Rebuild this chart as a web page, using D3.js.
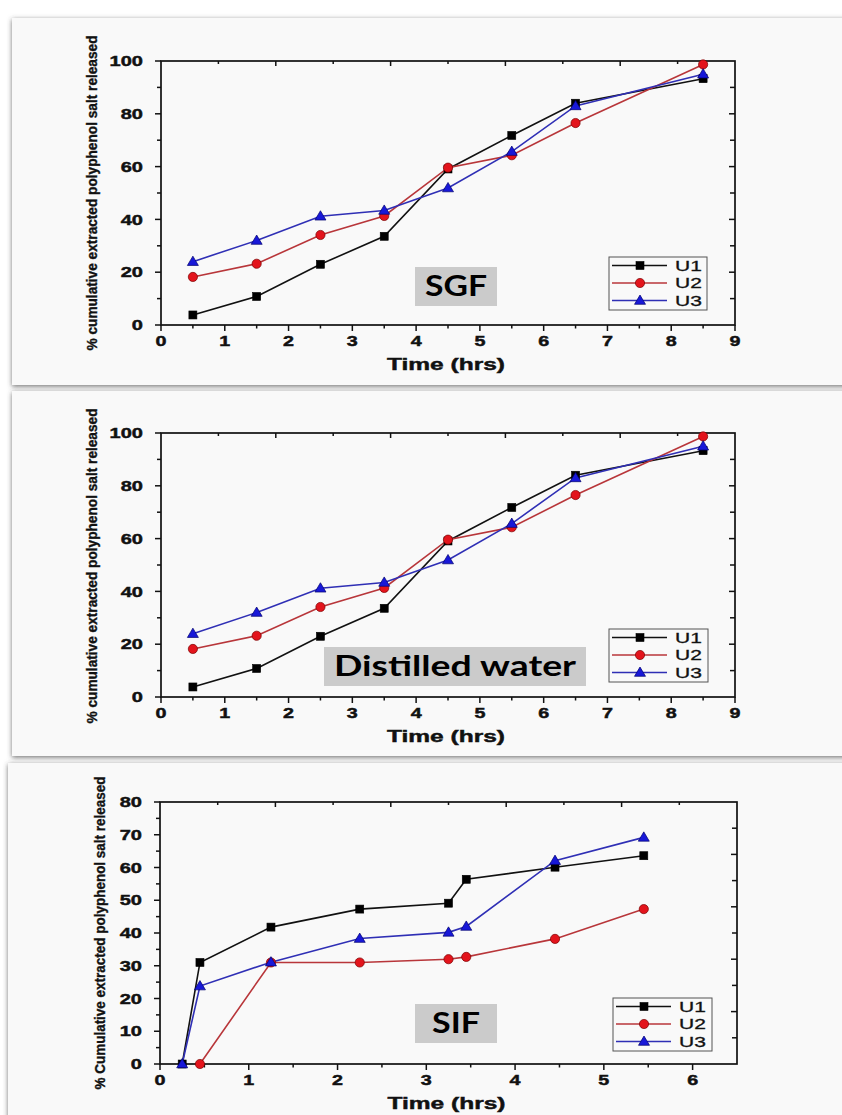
<!DOCTYPE html>
<html><head><meta charset="utf-8">
<script src="https://cdn.jsdelivr.net/npm/d3@7"></script>
<style>body{margin:0;background:#fff;} svg{display:block;}</style>
</head><body>
<svg id="c" width="842" height="1115"></svg>
<script>
// ---------- data ----------
const seriesNames = ["U1", "U2", "U3"];

const timeHrs = [0.5, 1.5, 2.5, 3.5, 4.5, 5.5, 6.5, 8.5];
const sgfU1 = [3.8, 10.8, 23.0, 33.6, 59.1, 71.8, 84.0, 93.3];
const sgfU2 = [18.2, 23.2, 34.1, 41.3, 59.6, 64.3, 76.5, 98.7];
const sgfU3 = [24.0, 32.0, 41.2, 43.4, 51.9, 65.7, 83.0, 95.0];

const waterU1 = [3.8, 10.8, 23.0, 33.6, 59.1, 71.8, 84.0, 93.3];
const waterU2 = [18.2, 23.2, 34.1, 41.3, 59.6, 64.3, 76.5, 98.7];
const waterU3 = [24.0, 32.0, 41.2, 43.4, 51.9, 65.7, 83.0, 95.0];

const sifTimeU1 = [0.25, 0.45, 1.25, 2.25, 3.25, 3.45, 4.45, 5.45];
const sifU1 = [0, 31.0, 41.8, 47.3, 49.1, 56.4, 60.1, 63.6];
const sifTimeU2 = [0.45, 1.25, 2.25, 3.25, 3.45, 4.45, 5.45];
const sifU2 = [0, 31.0, 31.0, 32.0, 32.7, 38.2, 47.3];
const sifTimeU3 = [0.25, 0.45, 1.25, 2.25, 3.25, 3.45, 4.45, 5.45];
const sifU3 = [0, 23.8, 31.1, 38.3, 40.2, 42.0, 62.1, 69.2];

const xTicksA = [0, 1, 2, 3, 4, 5, 6, 7, 8, 9];
const yTicksA = [0, 20, 40, 60, 80, 100];
const xTicksB = [0, 1, 2, 3, 4, 5, 6];
const yTicksB = [0, 10, 20, 30, 40, 50, 60, 70, 80];

const xTitle = "Time (hrs)";
const yTitleA = "% cumulative extracted polyphenol salt released";
const yTitleB = "% Cumulative extracted polyphenol salt released";
const panelLabels = ["SGF", "Distilled water", "SIF"];

// ---------- styles ----------
const lineColors = ["#111111", "#b8363a", "#2f2fb5"];
const fillColors = ["#000000", "#e3141c", "#1818d8"];
const edgeColors = ["#000000", "#7a0000", "#00006e"];
const STRETCH = 1.4;
const FONT = "'Liberation Sans', Arial, sans-serif";

const svg = d3.select("#c");
const defs = svg.append("defs");
const f = defs.append("filter").attr("id", "sh").attr("x", "-5%").attr("y", "-5%").attr("width", "110%").attr("height", "110%");
f.append("feDropShadow").attr("dx", 0).attr("dy", 1.5).attr("stdDeviation", 2.5)
  .attr("flood-color", "#444").attr("flood-opacity", 0.75);

function marker(g, i, px, py) {
  if (i === 0) {
    g.append("rect").attr("x", px - 4).attr("y", py - 4).attr("width", 8).attr("height", 8)
      .attr("fill", fillColors[0]).attr("stroke", edgeColors[0]).attr("stroke-width", 0.6);
  } else if (i === 1) {
    g.append("circle").attr("cx", px).attr("cy", py).attr("r", 4.6)
      .attr("fill", fillColors[1]).attr("stroke", edgeColors[1]).attr("stroke-width", 0.7);
  } else {
    g.append("path").attr("d", `M${px},${py - 5.5}L${px + 5.5},${py + 3.8}L${px - 5.5},${py + 3.8}Z`)
      .attr("fill", fillColors[2]).attr("stroke", edgeColors[2]).attr("stroke-width", 0.7);
  }
}

function stretchedText(g, tx, ty, txt, opts) {
  const gg = g.append("g").attr("transform", `translate(${tx},${ty})`);
  gg.append("text").attr("transform", `scale(${opts.sx || STRETCH},1)`)
    .attr("text-anchor", opts.anchor || "middle")
    .attr("dy", opts.dy || 0)
    .attr("font-family", FONT)
    .attr("font-weight", opts.weight || "bold")
    .attr("font-size", opts.size || 14)
    .attr("fill", "#111")
    .attr("stroke", opts.stroke ? "#111" : "none")
    .attr("stroke-width", opts.stroke || 0)
    .text(txt);
}

function panel(o) {
  const g = svg.append("g");
  g.append("rect").attr("x", o.box[0]).attr("y", o.box[1]).attr("width", o.box[2]).attr("height", o.box[3])
    .attr("fill", "#f9f9f9").attr("filter", "url(#sh)");

  const x = d3.scaleLinear().domain(o.xDomain).range([o.left, o.right]);
  const y = d3.scaleLinear().domain(o.yDomain).range([o.bottom, o.top]);
  const xMax = o.xDomain[1], yMax = o.yDomain[1];
  const tk = g.append("g").attr("stroke", "#111").attr("stroke-width", 1.5);

  // bottom ticks (outward)
  o.xTicks.forEach(v => tk.append("line").attr("x1", x(v)).attr("x2", x(v)).attr("y1", o.bottom).attr("y2", o.bottom + 6));
  const xs = o.xTicks[1] - o.xTicks[0];
  d3.range(o.xDomain[0] + xs / 2, xMax - 1e-6, xs).forEach(v =>
    tk.append("line").attr("x1", x(v)).attr("x2", x(v)).attr("y1", o.bottom).attr("y2", o.bottom + 3.5));
  // left ticks (outward)
  o.yTicks.forEach(v => tk.append("line").attr("x1", o.left - 6).attr("x2", o.left).attr("y1", y(v)).attr("y2", y(v)));
  const ys = o.yTicks[1] - o.yTicks[0];
  d3.range(o.yDomain[0] + ys / 2, yMax - 1e-6, ys).forEach(v =>
    tk.append("line").attr("x1", o.left - 4).attr("x2", o.left).attr("y1", y(v)).attr("y2", y(v)));
  // top ticks (inward), ten divisions
  d3.range(1, 10).forEach(k => {
    const v = xMax * k / 10;
    tk.append("line").attr("x1", x(v)).attr("x2", x(v)).attr("y1", o.top).attr("y2", o.top + (k % 2 === 0 ? 5 : 3));
  });
  // right ticks (inward), ten divisions
  d3.range(1, 10).forEach(k => {
    const v = yMax * k / 10;
    tk.append("line").attr("x1", o.right - (k % 2 === 0 ? 6 : 5)).attr("x2", o.right).attr("y1", y(v)).attr("y2", y(v));
  });

  // frame
  g.append("rect").attr("x", o.left).attr("y", o.top).attr("width", o.right - o.left).attr("height", o.bottom - o.top)
    .attr("fill", "none").attr("stroke", "#111").attr("stroke-width", 1.7);

  // tick labels
  o.xTicks.forEach(v => stretchedText(g, x(v), o.bottom + 21, String(v), { size: 14.5, sx: 1.36, stroke: 0.45 }));
  o.yTicks.forEach(v => stretchedText(g, o.left - 18, y(v), String(v), { size: 14.5, anchor: "end", dy: "0.36em", sx: 1.38, stroke: 0.45 }));

  // axis titles
  g.append("text").attr("x", (o.left + o.right) / 2 - 2).attr("y", o.bottom + 45)
    .attr("text-anchor", "middle").attr("font-family", FONT)
    .attr("font-weight", "bold").attr("font-size", 17).attr("fill", "#111")
    .attr("stroke", "#111").attr("stroke-width", 0.45)
    .attr("textLength", 118).attr("lengthAdjust", "spacingAndGlyphs").text(xTitle);
  g.append("text").attr("transform", `translate(${o.yTitleX},${o.yTitleY}) rotate(-90)`)
    .attr("text-anchor", "middle").attr("font-family", FONT)
    .attr("font-weight", "bold").attr("font-size", 14).attr("fill", "#111")
    .attr("stroke", "#111").attr("stroke-width", 0.35)
    .attr("textLength", o.yTitleLen).attr("lengthAdjust", "spacingAndGlyphs").text(o.yTitle);

  // label box
  g.append("rect").attr("x", o.labBox[0]).attr("y", o.labBox[1]).attr("width", o.labBox[2]).attr("height", o.labBox[3])
    .attr("fill", "#cbcbcb");
  g.append("text").attr("x", o.labBox[0] + o.labBox[2] / 2).attr("y", o.labBox[1] + o.labBox[3] - 10)
    .attr("text-anchor", "middle").attr("font-family", "Lato, 'Open Sans', sans-serif")
    .attr("font-weight", "bold").attr("font-size", 29).attr("fill", "#000")
    .attr("textLength", o.labLen).attr("lengthAdjust", "spacingAndGlyphs").text(o.label);

  // series
  const line = d3.line().x(d => x(d[0])).y(d => y(d[1]));
  o.series.forEach((s, i) => {
    const pts = s.t.map((t, j) => [t, s.v[j]]);
    g.append("path").attr("d", line(pts)).attr("fill", "none").attr("stroke", lineColors[i]).attr("stroke-width", 1.6);
  });
  o.series.forEach((s, i) => {
    s.t.forEach((t, j) => marker(g, i, x(t), y(s.v[j])));
  });

  // legend
  const L = o.legend;
  g.append("rect").attr("x", L[0]).attr("y", L[1]).attr("width", L[2]).attr("height", L[3])
    .attr("fill", "#f9f9f9").attr("stroke", "#555").attr("stroke-width", 1);
  seriesNames.forEach((nm, i) => {
    const ly = L[1] + 8.5 + i * 17.5;
    g.append("line").attr("x1", L[0] + 3).attr("x2", L[0] + 58).attr("y1", ly).attr("y2", ly)
      .attr("stroke", lineColors[i]).attr("stroke-width", 1.5);
    marker(g, i, L[0] + 31, ly);
    stretchedText(g, L[0] + 66, ly, nm, { size: 14.5, anchor: "start", dy: "0.36em", weight: "normal", sx: 1.45, stroke: 0.3 });
  });
}

panel({
  box: [12, 18, 850, 367],
  left: 161, right: 735, top: 61, bottom: 325,
  xDomain: [0, 9], yDomain: [0, 100], xTicks: xTicksA, yTicks: yTicksA,
  yTitle: yTitleA, yTitleX: 97, yTitleY: 193, yTitleLen: 315,
  label: panelLabels[0], labBox: [415, 267, 82, 39], labLen: 62,
  legend: [609, 257, 98, 53],
  series: [{ t: timeHrs, v: sgfU1 }, { t: timeHrs, v: sgfU2 }, { t: timeHrs, v: sgfU3 }]
});

panel({
  box: [12, 391, 850, 365],
  left: 161, right: 735, top: 433, bottom: 697,
  xDomain: [0, 9], yDomain: [0, 100], xTicks: xTicksA, yTicks: yTicksA,
  yTitle: yTitleA, yTitleX: 97, yTitleY: 566, yTitleLen: 315,
  label: panelLabels[1], labBox: [324, 647, 262, 39], labLen: 242,
  legend: [609, 629, 99, 53],
  series: [{ t: timeHrs, v: waterU1 }, { t: timeHrs, v: waterU2 }, { t: timeHrs, v: waterU3 }]
});

panel({
  box: [8, 763, 854, 370],
  left: 160, right: 737, top: 802, bottom: 1064,
  xDomain: [0, 6.5], yDomain: [0, 80], xTicks: xTicksB, yTicks: yTicksB,
  yTitle: yTitleB, yTitleX: 105, yTitleY: 933, yTitleLen: 313,
  label: panelLabels[2], labBox: [415, 1004, 82, 39], labLen: 48,
  legend: [613, 998, 99, 53],
  series: [{ t: sifTimeU1, v: sifU1 }, { t: sifTimeU2, v: sifU2 }, { t: sifTimeU3, v: sifU3 }]
});
</script>
</body></html>
